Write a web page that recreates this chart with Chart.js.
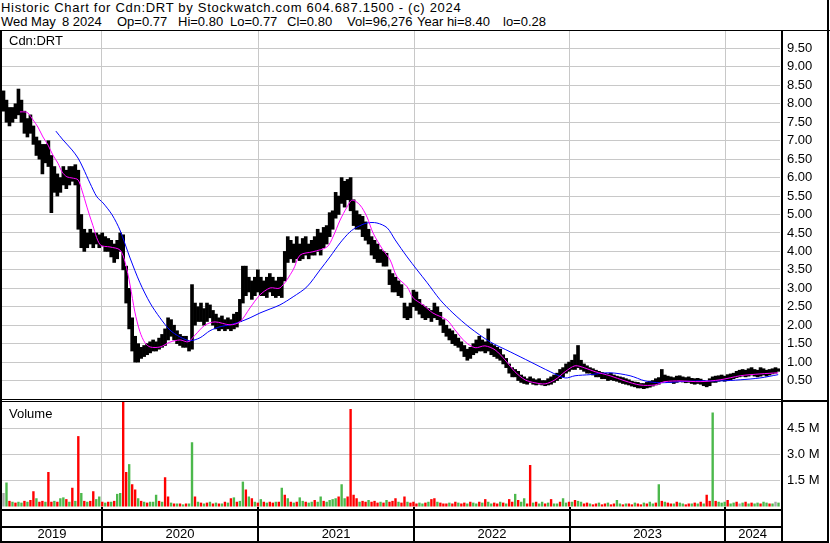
<!DOCTYPE html>
<html>
<head>
<meta charset="utf-8">
<script src="https://cdn.jsdelivr.net/npm/chart.js@4.4.1/dist/chart.umd.min.js"></script>
<style>
    body { margin: 0; background: #fff; font-family: "Liberation Sans", Arial, sans-serif; }
    #page { position: relative; width: 830px; height: 543px; overflow: hidden; }
    .hdr { position: absolute; top: 15px; font-size: 13px; line-height: 14px; white-space: pre; color: #000; }
    .lbl { position: absolute; font-size: 13px; line-height: 15px; color: #000; }
    .ln { position: absolute; background: #000; }
    #priceChart { position: absolute; left: 0; top: 30px; }
    #volChart { position: absolute; left: 0; top: 402px; }
</style>
</head>
<body>
<div id="page">
    <div class="hdr" style="left:1px; top:1px; letter-spacing:0.7px">Historic Chart for Cdn:DRT by Stockwatch.com 604.687.1500 - (c) 2024</div>
    <div class="hdr" style="left:1px">Wed May</div>
    <div class="hdr" style="left:62px">8 2024</div>
    <div class="hdr" style="left:117px">Op=0.77</div>
    <div class="hdr" style="left:178px">Hi=0.80</div>
    <div class="hdr" style="left:230px">Lo=0.77</div>
    <div class="hdr" style="left:287px">Cl=0.80</div>
    <div class="hdr" style="left:347px">Vol=96,276</div>
    <div class="hdr" style="left:417px">Year hi=8.40</div>
    <div class="hdr" style="left:503px">lo=0.28</div>

    <canvas id="priceChart" width="830" height="369"></canvas>
    <canvas id="volChart" width="830" height="141"></canvas>

    <div class="lbl" style="left:9px; top:33px">Cdn:DRT</div>
    <div class="lbl" style="left:9px; top:406px">Volume</div>

    <!-- frame -->
    <div class="ln" style="left:0; top:30px; width:830px; height:1px"></div>
    <div class="ln" style="left:0; top:30px; width:2px; height:513px"></div>
    <div class="ln" style="left:781px; top:30px; width:2px; height:513px"></div>
    <div class="ln" style="left:827px; top:0; width:2px; height:543px"></div>
    <div class="ln" style="left:0; top:399px; width:781px; height:1px"></div>
    <div class="ln" style="left:0; top:401px; width:781px; height:1px"></div>
    <div class="ln" style="left:781px; top:400px; width:48px; height:2px"></div>
    <div class="ln" style="left:0; top:509px; width:781px; height:2px"></div>
    <div class="ln" style="left:0; top:526px; width:781px; height:2px"></div>
    <div class="ln" style="left:0; top:541px; width:829px; height:2px"></div>
</div>

<script>
// weekly bars, May 2019 .. May 2024 (x = week number)
const weekHigh = [
    8.35, 8.1, 7.9, 7.9, 8.0, 8.4, 8.1, 7.8, 7.6, 7.7,
    7.4, 7.1, 7.0, 6.9, 6.9, 7.0, 6.6, 6.3, 6.1, 6.0,
    6.3, 6.2, 6.3, 6.3, 6.35, 6.2, 5.0, 4.6, 4.5, 4.6,
    4.5, 4.5, 4.45, 4.5, 4.4, 4.35, 4.3, 4.2, 4.3, 4.5,
    4.45, 3.6, 3.0, 2.2, 1.7, 1.5, 1.4, 1.45, 1.5, 1.55,
    1.6, 1.55, 1.65, 1.75, 1.9, 2.2, 2.15, 2.0, 1.85, 1.75,
    1.7, 1.7, 1.55, 3.1, 2.6, 2.5, 2.6, 2.45, 2.6, 2.55,
    2.4, 2.3, 2.2, 2.25, 2.15, 2.2, 2.15, 2.3, 2.35, 2.7,
    3.6, 3.6, 3.3, 3.2, 3.3, 3.5, 3.3, 3.2, 3.3, 3.4,
    3.3, 3.2, 3.3, 3.3, 4.0, 4.4, 4.3, 4.2, 4.4, 4.2,
    4.35, 4.4, 4.2, 4.3, 4.4, 4.6, 4.5, 4.65, 4.7, 5.05,
    5.1, 5.6, 5.5, 6.0, 5.9, 5.95, 6.0, 5.4, 5.1, 5.0,
    4.95, 4.8, 4.6, 4.4, 4.3, 4.2, 4.05, 4.0, 3.95, 3.5,
    3.4, 3.3, 3.2, 3.1, 2.6, 2.5, 2.6, 2.95, 2.9, 2.7,
    2.55, 2.5, 2.45, 2.4, 2.6, 2.5, 2.35, 2.15, 2.0, 1.9,
    1.85, 1.75, 1.65, 1.55, 1.45, 1.35, 1.4, 1.5, 1.6, 1.7,
    1.6, 1.55, 1.9, 1.5, 1.45, 1.4, 1.35, 1.2, 1.1, 0.95,
    0.85, 0.8, 0.75, 0.65, 0.6, 0.55, 0.6, 0.55, 0.52, 0.55,
    0.5, 0.5, 0.55, 0.6, 0.65, 0.7, 0.8, 0.85, 0.95, 1.0,
    1.05, 1.2, 1.45, 1.05, 0.95, 0.9, 0.85, 0.82, 0.78, 0.75,
    0.72, 0.7, 0.68, 0.7, 0.65, 0.62, 0.6, 0.58, 0.55, 0.52,
    0.48, 0.46, 0.45, 0.42, 0.42, 0.45, 0.48, 0.5, 0.55, 0.58,
    0.8, 0.65, 0.62, 0.6, 0.58, 0.62, 0.63, 0.6, 0.58, 0.6,
    0.56, 0.55, 0.56, 0.54, 0.5, 0.48, 0.55, 0.6, 0.62, 0.63,
    0.65, 0.62, 0.66, 0.68, 0.7, 0.75, 0.78, 0.8, 0.78, 0.82,
    0.85, 0.8, 0.78, 0.85, 0.82, 0.78, 0.8, 0.82, 0.85, 0.82
];
const weekLow = [
    7.8, 7.5, 7.4, 7.5, 7.6, 7.7, 7.5, 7.2, 7.1, 7.2,
    6.9, 6.6, 6.5, 6.1, 6.4, 6.3, 5.05, 5.6, 5.5, 5.6,
    5.8, 5.7, 5.8, 5.9, 5.8, 4.6, 4.1, 4.0, 4.1, 4.2,
    4.1, 4.2, 4.1, 4.15, 4.0, 4.0, 3.85, 3.7, 3.8, 4.0,
    3.5, 2.6, 1.9, 1.3, 1.0, 1.0, 1.1, 1.15, 1.2, 1.25,
    1.3, 1.3, 1.35, 1.4, 1.45, 1.6, 1.7, 1.6, 1.5, 1.45,
    1.4, 1.4, 1.3, 1.35, 2.0, 2.1, 2.1, 2.0, 2.1, 2.2,
    2.0, 1.9, 1.85, 1.9, 1.85, 1.9, 1.85, 1.9, 1.95, 2.1,
    2.6, 2.8, 2.9, 2.7, 2.8, 2.9, 2.8, 2.8, 2.75, 2.9,
    2.8, 2.75, 2.8, 2.75, 3.2, 3.7, 3.8, 3.7, 3.8, 3.75,
    3.8, 3.9, 3.8, 3.9, 3.9, 4.0, 3.9, 4.1, 4.2, 4.4,
    4.6, 4.9, 5.0, 5.3, 5.2, 5.4, 5.1, 4.7, 4.6, 4.6,
    4.4, 4.3, 4.2, 3.9, 3.8, 3.7, 3.7, 3.6, 3.6, 3.1,
    2.9, 2.9, 2.8, 2.75, 2.2, 2.15, 2.2, 2.5, 2.4, 2.3,
    2.2, 2.15, 2.2, 2.1, 2.2, 2.15, 2.0, 1.8, 1.7, 1.6,
    1.5, 1.45, 1.4, 1.3, 1.15, 1.05, 1.1, 1.2, 1.25, 1.3,
    1.3, 1.25, 1.3, 1.2, 1.15, 1.1, 1.05, 0.95, 0.85, 0.7,
    0.6, 0.6, 0.5, 0.45, 0.42, 0.4, 0.45, 0.4, 0.38, 0.4,
    0.38, 0.36, 0.38, 0.4, 0.45, 0.5, 0.55, 0.6, 0.7, 0.75,
    0.8, 0.8, 0.85, 0.8, 0.75, 0.7, 0.7, 0.65, 0.6, 0.6,
    0.55, 0.55, 0.5, 0.52, 0.5, 0.48, 0.45, 0.42, 0.4, 0.38,
    0.35, 0.33, 0.3, 0.3, 0.28, 0.3, 0.32, 0.35, 0.38, 0.4,
    0.45, 0.48, 0.45, 0.45, 0.42, 0.45, 0.48, 0.46, 0.44, 0.45,
    0.42, 0.4, 0.42, 0.4, 0.36, 0.33, 0.36, 0.45, 0.45, 0.48,
    0.5, 0.48, 0.5, 0.52, 0.55, 0.58, 0.6, 0.62, 0.6, 0.62,
    0.65, 0.62, 0.6, 0.62, 0.65, 0.62, 0.65, 0.68, 0.7, 0.75
];

// volume in millions, d = down (red), u = up (green), n = unchanged (grey)
const weekVolume = [
    0.8, 1.4, 0.35, 0.3, 0.25, 0.3, 0.25, 0.35, 0.3, 0.4,
    0.9, 0.5, 0.3, 0.35, 0.3, 2.0, 0.3, 0.35, 0.3, 0.5,
    0.55, 0.45, 0.3, 1.1, 0.35, 4.05, 0.8, 0.35, 0.3, 0.35,
    0.9, 0.45, 0.6, 0.3, 0.25, 0.3, 0.3, 0.35, 0.75, 0.8,
    6.1, 2.0, 2.45, 1.3, 1.0, 0.5, 0.35, 0.3, 0.25, 0.3,
    0.3, 0.7, 0.35, 0.3, 1.7, 0.6, 0.25, 0.2, 0.2, 0.2,
    0.15, 0.2, 0.2, 3.7, 0.6, 0.3, 0.25, 0.2, 0.25, 0.3,
    0.2, 0.25, 0.2, 0.2, 0.3, 0.25, 0.5, 0.55, 0.3, 0.35,
    1.45, 1.0, 0.6, 0.5, 0.3, 0.25, 0.45, 0.3, 0.25, 0.3,
    0.25, 0.3, 0.3, 1.1, 0.7, 0.5, 0.3, 0.25, 0.3, 0.55,
    0.35, 0.3, 0.25, 0.3, 0.4, 0.3, 0.6, 0.35, 0.3, 0.4,
    0.45, 0.5, 0.6, 1.3, 0.5, 0.6, 5.6, 0.7, 0.5, 0.3,
    0.35, 0.3, 0.4, 0.3, 0.35, 0.25, 0.3, 0.25, 0.4, 0.3,
    0.35, 0.5, 0.3, 0.25, 0.6, 0.3, 0.25, 0.3, 0.2, 0.25,
    0.2, 0.25, 0.3, 0.45, 0.5, 0.3, 0.25, 0.2, 0.2, 0.25,
    0.2, 0.3, 0.25, 0.2, 0.25, 0.2, 0.3, 0.25, 0.2, 0.3,
    0.25, 0.45, 0.3, 0.2, 0.25, 0.2, 0.3, 0.25, 0.2, 0.45,
    0.3, 0.75, 0.4, 0.3, 0.5, 0.2, 2.4, 0.25, 0.3, 0.2,
    0.3, 0.2, 0.25, 0.45, 0.2, 0.2, 0.3, 0.5, 0.25, 0.3,
    0.3, 0.4, 0.35, 0.3, 0.2, 0.25, 0.2, 0.15, 0.2, 0.25,
    0.15, 0.2, 0.25, 0.15, 0.2, 0.4, 0.2, 0.15, 0.2, 0.2,
    0.15, 0.25, 0.2, 0.15, 0.25, 0.2, 0.3, 0.2, 0.25, 1.3,
    0.35, 0.3, 0.25, 0.2, 0.2, 0.3, 0.25, 0.2, 0.15, 0.2,
    0.2, 0.25, 0.2, 0.3, 0.2, 0.7, 0.35, 5.4, 0.35, 0.3,
    0.25, 0.3, 0.4, 0.2, 0.25, 0.3, 0.2, 0.25, 0.3, 0.2,
    0.25, 0.2, 0.25, 0.2, 0.3, 0.25, 0.2, 0.2, 0.3, 0.25
];
const volumeDir =
    'nududuudud' + 'dudduddudu' + 'ududududud' + 'duudududuu' + 'dduddududu' +
    'uududdudud' + 'uduudududu' + 'dududududu' + 'ududududud' + 'dududududu' +
    'uduuduuduu' + 'uuduuddddu' + 'ddudddudud' + 'dduddudddu' + 'ududdudddu' +
    'ddudduduud' + 'uduuddudud' + 'duduuddudu' + 'ududuuduud' + 'uduudduddu' +
    'ddudduudud' + 'dudduduudu' + 'dudduduudd' + 'udududdudu' + 'uuduudnudu' +
    'duuduudunu';

// moving averages (week, price)
const fastMaWeek = [5.5, 7.2, 8.2, 9.9, 11.5, 13.2, 14.9, 16.5, 18.2, 19.6, 21.2, 22.9, 24.9, 26.2, 27.9, 29.6,
    32.3, 35.6, 38.9, 40.6, 42.3, 43.9, 45.6, 47.3, 49.0, 52.3, 55.6, 59.0, 61.7, 64.0, 67.3, 70.7, 75.7,
    79.0, 82.4, 85.7, 89.1, 92.4, 96.8, 99.1, 103.4, 108.1, 110.1, 112.5, 114.8, 116.5, 119.1, 121.5, 123.5,
    126.8, 129.2, 131.5, 134.9, 136.9, 140.2, 143.5, 148.2, 150.9, 154.3, 157.6, 160.9, 164.3, 167.6, 170.9,
    174.3, 177.6, 181.0, 184.3, 187.7, 191.0, 194.3, 197.7, 202.7, 207.7, 212.7, 217.7, 221.0, 226.1, 232.8,
    239.5, 246.2, 252.8, 258.9];
const fastMaValue = [7.78, 7.78, 7.75, 7.56, 7.37, 7.1, 6.88, 6.61, 6.39, 6.15, 6.02, 5.99, 5.94, 5.66, 5.2, 4.77,
    4.18, 4.12, 4.04, 3.72, 3.09, 2.36, 1.82, 1.52, 1.41, 1.41, 1.54, 1.6, 1.55, 1.73, 2.0, 2.09, 2.01,
    2.09, 2.47, 2.82, 3.01, 3.01, 3.5, 3.9, 3.99, 4.12, 4.39, 4.85, 5.2, 5.39, 5.26, 4.93, 4.5,
    4.04, 3.77, 3.31, 3.04, 2.74, 2.55, 2.33, 2.14, 1.87, 1.55, 1.39, 1.44, 1.33, 1.06, 0.74,
    0.52, 0.44, 0.41, 0.52, 0.74, 0.9, 0.84, 0.74, 0.63, 0.49, 0.38, 0.38, 0.47, 0.49, 0.47,
    0.52, 0.63, 0.68, 0.71];
const slowMaWeek = [17.5, 19.9, 22.9, 24.9, 26.6, 28.9, 31.2, 33.3, 36.3, 38.9, 42.3, 45.6, 49.0, 52.3, 55.6,
    59.0, 62.3, 65.7, 69.0, 72.4, 75.7, 79.0, 82.4, 85.7, 89.1, 92.4, 96.8, 101.4, 105.8, 109.1, 112.5,
    115.8, 118.2, 121.5, 124.8, 128.2, 130.9, 134.9, 138.2, 141.6, 145.9, 150.2, 155.9, 162.6, 169.3,
    176.0, 182.7, 187.7, 191.0, 196.0, 202.7, 209.4, 214.4, 219.4, 226.1, 232.8, 239.5, 246.2, 252.8, 258.9];
const slowMaValue = [7.26, 7.02, 6.75, 6.53, 6.26, 5.85, 5.48, 5.31, 4.99, 4.58, 3.82, 3.15, 2.6, 2.2, 1.87,
    1.68, 1.58, 1.66, 1.85, 1.96, 2.01, 2.09, 2.2, 2.33, 2.44, 2.55, 2.77, 3.04, 3.5, 3.85, 4.23,
    4.53, 4.66, 4.77, 4.77, 4.64, 4.31, 3.85, 3.5, 3.15, 2.69, 2.33, 1.93, 1.55, 1.28,
    1.01, 0.74, 0.57, 0.63, 0.66, 0.71, 0.63, 0.49, 0.44, 0.47, 0.49, 0.49, 0.52, 0.57, 0.66];

// axes
const priceTicks = [0.5, 1, 1.5, 2, 2.5, 3, 3.5, 4, 4.5, 5, 5.5, 6, 6.5, 7, 7.5, 8, 8.5, 9, 9.5];
const volumeTicks = [1.5, 3.0, 4.5];
const yearLabels = ['2019', '2020', '2021', '2022', '2023', '2024'];
const yearStarts = [32.9, 85.1, 137.2, 189.3, 241.2];   // first week of 2020..2024

const FONT = { family: '"Liberation Sans", Arial, sans-serif', size: 13 };
const GRID = '#c8c8c8';
const X_MIN = -0.5;
const X_MAX = weekHigh.length - 0.5;
const volColors = { d: '#ff0000', u: '#4cb84c', n: '#a8a8a8' };

function weekAxis(extra) {
    return Object.assign({
        type: 'linear',
        min: X_MIN,
        max: X_MAX,
        offset: false,
        afterBuildTicks: s => { s.ticks = yearStarts.map(v => ({ value: v })); },
        afterFit: s => { s.height = 0; s.paddingLeft = 0; s.paddingRight = 0; },
        ticks: { display: false },
        grid: { color: GRID, offset: false, drawTicks: false },
        border: { display: false }
    }, extra || {});
}

// right-hand value axis, no extra room above/below the plot
function rightAxis(extra) {
    return Object.assign({
        position: 'right',
        afterFit: s => { s.width = 50; s.paddingTop = 0; s.paddingBottom = 0; },
        border: { display: false }
    }, extra);
}

// Price chart
new Chart(document.getElementById('priceChart'), {
    type: 'bar',
    data: {
        datasets: [
            {
                type: 'line',
                data: fastMaWeek.map((w, i) => ({ x: w, y: fastMaValue[i] })),
                borderColor: '#ff00ff',
                borderWidth: 1,
                pointRadius: 0,
                tension: 0.3,
                order: 1
            },
            {
                type: 'line',
                data: slowMaWeek.map((w, i) => ({ x: w, y: slowMaValue[i] })),
                borderColor: '#0000ff',
                borderWidth: 1,
                pointRadius: 0,
                tension: 0.3,
                order: 2
            },
            {
                type: 'bar',
                data: weekHigh.map((h, i) => ({ x: i, y: [weekLow[i], h] })),
                backgroundColor: '#000',
                barPercentage: 1,
                categoryPercentage: 1,
                order: 3
            }
        ]
    },
    options: {
        responsive: false,
        animation: false,
        layout: { autoPadding: false, padding: { left: 2, right: 0, top: 0, bottom: 0 } },
        plugins: { legend: { display: false }, tooltip: { enabled: false } },
        scales: {
            x: weekAxis(),
            y: rightAxis({
                min: 0,
                max: 10,
                afterBuildTicks: s => { s.ticks = priceTicks.map(v => ({ value: v })); },
                ticks: { padding: 7, color: '#000', font: FONT, callback: v => v.toFixed(2) },
                grid: { color: GRID, drawTicks: false }
            })
        }
    }
});

// Black year separators under the volume panel
const yearDividers = {
    id: 'yearDividers',
    afterDraw(chart) {
        const ctx = chart.ctx;
        const xs = chart.scales.x;
        ctx.save();
        ctx.fillStyle = '#000';
        yearStarts.forEach(v => {
            const px = Math.round(xs.getPixelForValue(v));
            ctx.fillRect(px - 1, chart.chartArea.bottom, 2, chart.height - chart.chartArea.bottom);
        });
        ctx.restore();
    }
};

// label positions: middle of each year band
const bounds = [X_MIN].concat(yearStarts, [X_MAX]);
const yearMids = yearLabels.map((_, i) => (bounds[i] + bounds[i + 1]) / 2);

// Volume chart
new Chart(document.getElementById('volChart'), {
    type: 'bar',
    data: {
        datasets: [{
            data: weekVolume.map((v, i) => ({ x: i, y: v })),
            backgroundColor: volumeDir.split('').map(c => volColors[c]),
            barPercentage: 0.8,
            categoryPercentage: 1
        }]
    },
    options: {
        responsive: false,
        animation: false,
        layout: { autoPadding: false, padding: { left: 2, right: 0, top: 0, bottom: 0 } },
        plugins: { legend: { display: false }, tooltip: { enabled: false } },
        scales: {
            x: weekAxis({
                afterBuildTicks: s => {
                    s.ticks = yearStarts.concat(yearMids).sort((a, b) => a - b).map(v => ({ value: v }));
                },
                afterFit: s => { s.height = 36; s.paddingLeft = 0; s.paddingRight = 0; },
                ticks: {
                    display: true,
                    autoSkip: false,
                    maxRotation: 0,
                    padding: 20,
                    color: '#000',
                    font: FONT,
                    callback: v => {
                        const k = yearMids.indexOf(v);
                        return k >= 0 ? yearLabels[k] : '';
                    }
                },
                grid: {
                    offset: false,
                    drawTicks: false,
                    color: c => (c.tick && yearStarts.includes(c.tick.value)) ? GRID : 'rgba(0,0,0,0)'
                }
            }),
            y: rightAxis({
                min: 0,
                max: 6,
                afterBuildTicks: s => { s.ticks = [0].concat(volumeTicks, [6]).map(v => ({ value: v })); },
                ticks: {
                    padding: 7,
                    color: '#000',
                    font: FONT,
                    callback: v => volumeTicks.includes(v) ? v.toFixed(1) + ' M' : ''
                },
                grid: {
                    color: c => volumeTicks.includes(c.tick.value) ? GRID : 'rgba(0,0,0,0)',
                    drawTicks: false
                }
            })
        }
    },
    plugins: [yearDividers]
});
</script>
</body>
</html>
